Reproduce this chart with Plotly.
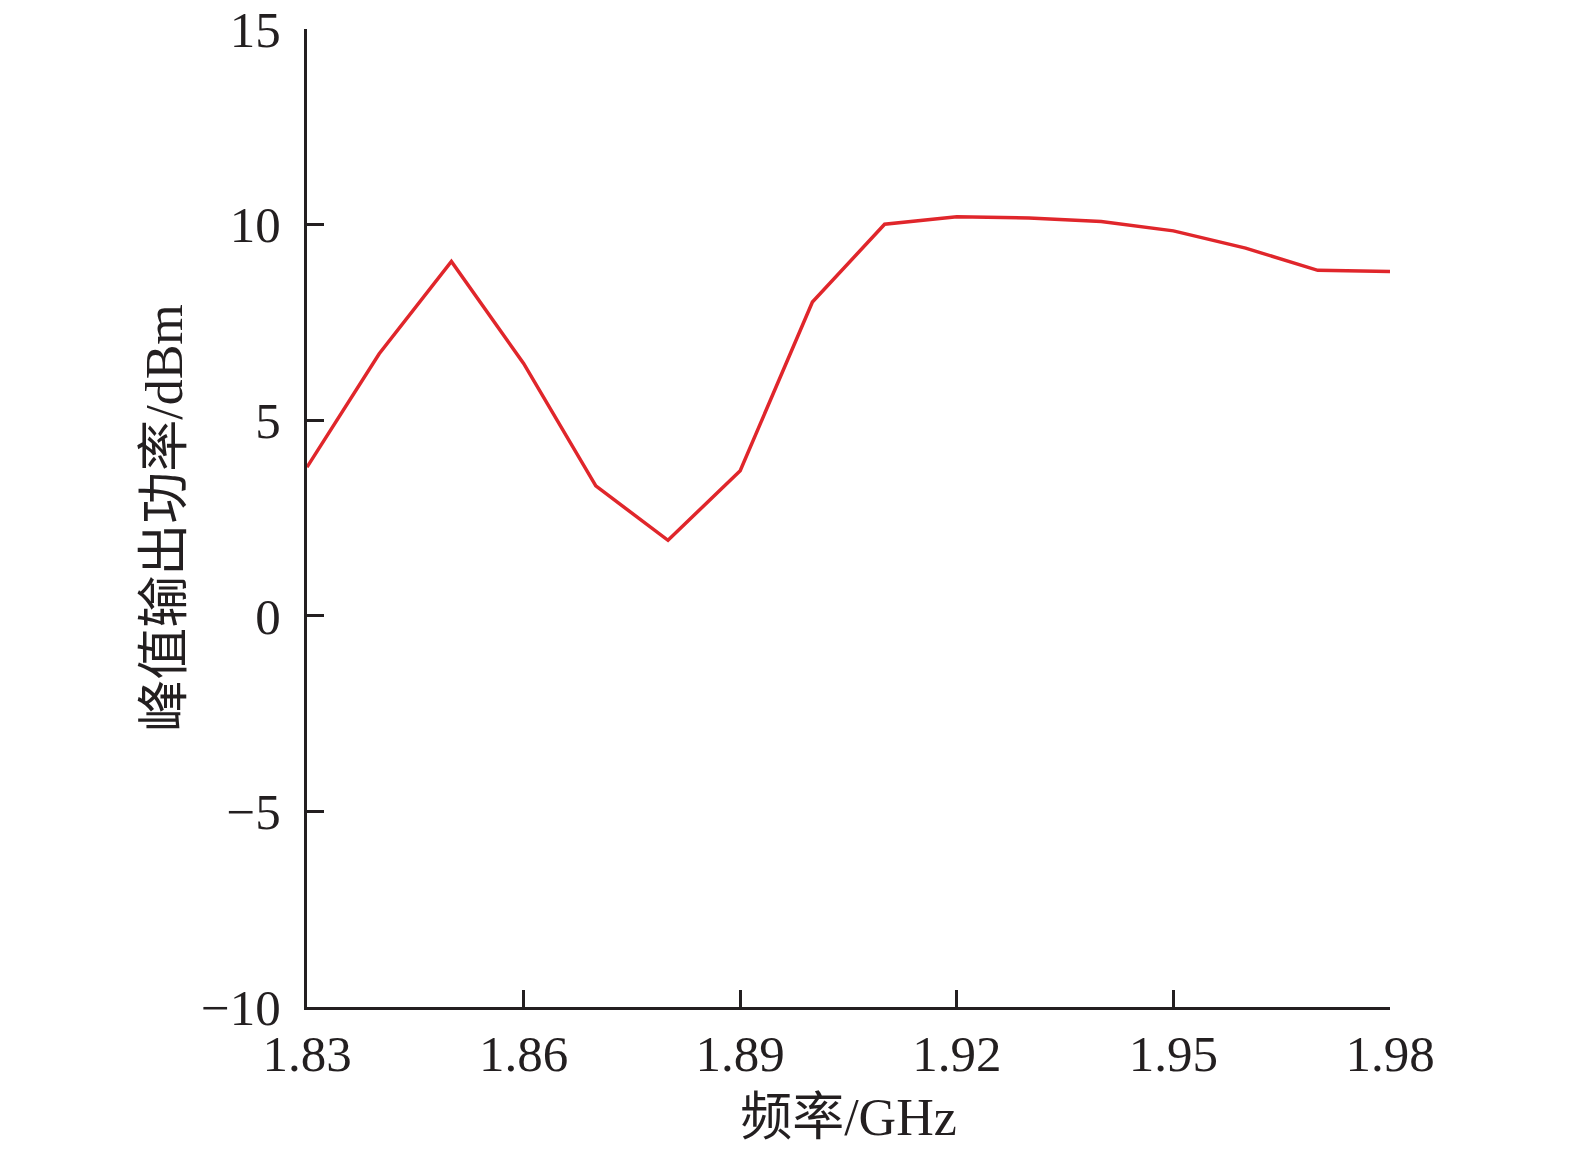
import plotly.graph_objects as go

freq = [1.83, 1.84, 1.85, 1.86, 1.87, 1.88, 1.89, 1.90,
        1.91, 1.92, 1.93, 1.94, 1.95, 1.96, 1.97, 1.98]
power = [3.8, 6.7, 9.06, 6.45, 3.32, 1.93, 3.71, 8.02,
         10.01, 10.2, 10.17, 10.08, 9.84, 9.40, 8.83, 8.80]

x_ticks = [1.83, 1.86, 1.89, 1.92, 1.95, 1.98]
x_ticktext = ["1.83", "1.86", "1.89", "1.92", "1.95", "1.98"]
y_ticks = [-10, -5, 0, 5, 10, 15]
y_ticktext = ["\u221210", "\u22125", "0", "5", "10", "15"]

font_family = "Liberation Serif, Times New Roman, Noto Sans CJK SC, serif"

fig = go.Figure()
fig.add_trace(go.Scatter(x=freq, y=power, mode="lines",
                         line=dict(color="#e0262b", width=3.5),
                         showlegend=False))

axis_common = dict(showgrid=False, zeroline=False, showline=True,
                   linecolor="#231f20", linewidth=3,
                   ticks="inside", ticklen=17, tickwidth=2.5,
                   tickcolor="#231f20", automargin=False,
                   ticklabeloverflow="allow",
                   tickfont=dict(family=font_family, size=51, color="#231f20"))

fig.update_layout(
    width=1575, height=1149,
    margin=dict(l=307, r=185, t=29, b=142),
    paper_bgcolor="white", plot_bgcolor="white",
    font=dict(family=font_family, color="#231f20"),
    xaxis=dict(range=[1.83, 1.98], tickvals=x_ticks, ticktext=x_ticktext,
               ticklabelstandoff=0,
               title=dict(text="频率/GHz", font=dict(family=font_family, size=52),
                          standoff=18),
               **axis_common),
    yaxis=dict(range=[-10, 15], tickvals=y_ticks, ticktext=y_ticktext,
               ticklabelstandoff=13,
               title=dict(text="峰值输出功率/dBm", font=dict(family=font_family, size=52),
                          standoff=2),
               **axis_common),
)

fig.write_html("out.html",
               config={"displayModeBar": False},
               post_script="document.body.style.margin='0';document.body.style.overflow='hidden';")
